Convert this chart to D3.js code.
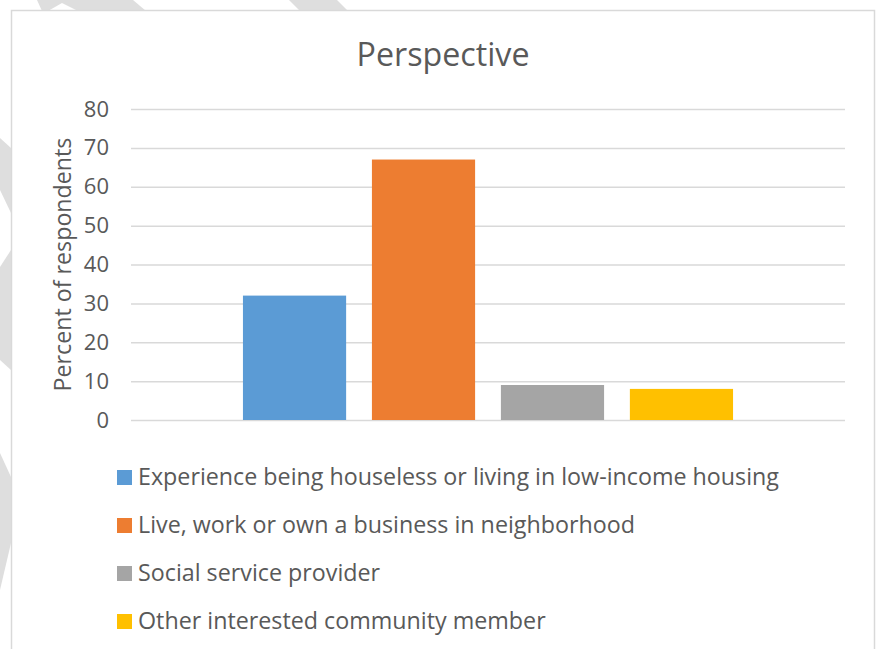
<!DOCTYPE html>
<html>
<head>
<meta charset="utf-8">
<script src="https://cdn.jsdelivr.net/npm/d3@7"></script>
<style>
  html, body { margin: 0; padding: 0; background: #ffffff; }
  svg { display: block; font-family: "Open Sans", "Noto Sans", sans-serif; }
</style>
</head>
<body>
<svg id="chart" width="877" height="649"></svg>
<script>
// Survey respondents by perspective (percent)
const chartTitle = "Perspective";
const yAxisTitle = "Percent of respondents";
const categories = [
  "Experience being houseless or living in low-income housing",
  "Live, work or own a business in neighborhood",
  "Social service provider",
  "Other interested community member"
];
const values = [32, 67, 9, 8];
const seriesColors = ["#5B9BD5", "#ED7D31", "#A5A5A5", "#FFC000"];
const yTicks = [0, 10, 20, 30, 40, 50, 60, 70, 80];

const W = 877, H = 649;
const svg = d3.select("#chart");
const textColor = "#595959";
const gridColor = "#D9D9D9";

// Scale a text element's font so its rendered length equals the given width
function fitText(sel, width) {
  const node = sel.node();
  const base = parseFloat(sel.style("font-size"));
  const len = node.getComputedTextLength();
  sel.style("font-size", (base * width / len).toFixed(2) + "px");
  return base * width / len;
}

// Faint diagonal page marks behind the chart frame
const marks = [
  [[37,0],[133,0],[146,11],[78,11],[62,3],[48,11],[42,11]],
  [[289,0],[337,0],[348,11],[300,11]],
  [[0,138],[11,148],[11,213],[0,190]],
  [[0,267],[11,250],[11,370],[0,360]],
  [[0,453],[11,477],[11,543],[0,590]]
];
svg.append("g").selectAll("polygon").data(marks).join("polygon")
  .attr("points", d => d.map(p => p.join(",")).join(" "))
  .attr("fill", "#DEDEDE");

// Chart frame
svg.append("rect")
  .attr("x", 11.5).attr("y", 10.5)
  .attr("width", 863).attr("height", H)
  .attr("fill", "#ffffff")
  .attr("stroke", gridColor).attr("stroke-width", 1.5);

const plot = { left: 131, right: 845, top: 109, bottom: 420 };

const y = d3.scaleLinear().domain([0, 80]).range([plot.bottom, plot.top]);
const x = d3.scaleBand()
  .domain(categories)
  .range([plot.left, plot.right])
  .paddingInner(0.2)
  .paddingOuter(0.868);

// Gridlines
svg.append("g")
  .attr("transform", `translate(${plot.left},0)`)
  .call(d3.axisLeft(y).tickValues(yTicks).tickSize(-(plot.right - plot.left)).tickFormat(""))
  .call(g => g.select(".domain").remove())
  .call(g => g.selectAll("line").attr("stroke", gridColor).attr("stroke-width", 1.5));

// Tick labels
svg.append("g")
  .attr("transform", `translate(${plot.left},0)`)
  .call(d3.axisLeft(y).tickValues(yTicks).tickSize(0).tickPadding(22))
  .call(g => g.select(".domain").remove())
  .call(g => g.selectAll("text")
    .attr("fill", textColor)
    .style("font-family", "'Open Sans', sans-serif")
    .style("font-size", "22px"));

// Bars
svg.append("g").selectAll("rect").data(categories).join("rect")
  .attr("x", d => x(d))
  .attr("width", x.bandwidth())
  .attr("y", (d, i) => y(values[i]))
  .attr("height", (d, i) => y(0) - y(values[i]))
  .attr("fill", (d, i) => seriesColors[i]);

// Title
const title = svg.append("text")
  .attr("x", 443).attr("y", 66)
  .attr("text-anchor", "middle")
  .attr("fill", textColor)
  .style("font-size", "30px")
  .text(chartTitle);
fitText(title, 173);

// Y axis title
const yTitle = svg.append("text")
  .attr("transform", `translate(71,${(plot.top + plot.bottom) / 2}) rotate(-90)`)
  .attr("text-anchor", "middle")
  .attr("fill", textColor)
  .style("font-size", "22px")
  .text(yAxisTitle);
fitText(yTitle, 254);

// Legend
const legend = svg.append("g").selectAll("g").data(categories).join("g")
  .attr("transform", (d, i) => `translate(117,${485 + i * 48})`);
legend.append("rect")
  .attr("x", 0).attr("y", -15)
  .attr("width", 15).attr("height", 15)
  .attr("fill", (d, i) => seriesColors[i]);
const legendText = legend.append("text")
  .attr("x", 21).attr("y", 0)
  .attr("fill", textColor)
  .style("font-size", "22px")
  .text(d => d);
const legendSize = fitText(legendText.filter((d, i) => i === 0), 641);
legendText.style("font-size", legendSize.toFixed(2) + "px");
</script>
</body>
</html>
